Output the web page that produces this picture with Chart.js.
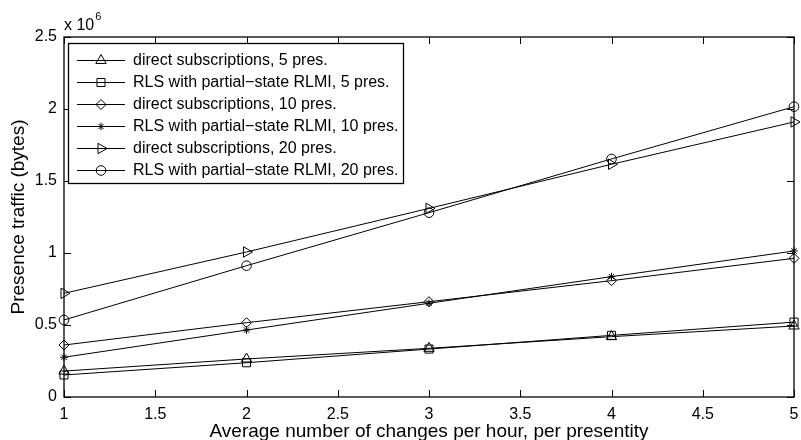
<!DOCTYPE html>
<html><head><meta charset="utf-8">
<style>html,body{margin:0;padding:0;background:#fff}#wrap{width:801px;height:440px}</style>
<script src="https://cdn.jsdelivr.net/npm/chart.js@4.4.0/dist/chart.umd.min.js"></script>
</head><body><div id="wrap"><canvas id="c" width="801" height="440"></canvas></div>
<script>
const changesPerHour = [1, 2, 3, 4, 5];
const direct5  = [0.180e6, 0.264e6, 0.338e6, 0.419e6, 0.493e6];
const rls5     = [0.153e6, 0.238e6, 0.333e6, 0.428e6, 0.520e6];
const direct10 = [0.361e6, 0.516e6, 0.662e6, 0.808e6, 0.963e6];
const rls10    = [0.276e6, 0.465e6, 0.651e6, 0.836e6, 1.014e6];
const direct20 = [0.720e6, 1.007e6, 1.310e6, 1.616e6, 1.910e6];
const rls20    = [0.535e6, 0.912e6, 1.280e6, 1.653e6, 2.016e6];
const seriesLabels = [
  'direct subscriptions, 5 pres.',
  'RLS with partial\u2212state RLMI, 5 pres.',
  'direct subscriptions, 10 pres.',
  'RLS with partial\u2212state RLMI, 10 pres.',
  'direct subscriptions, 20 pres.',
  'RLS with partial\u2212state RLMI, 20 pres.'
];
const xTickValues = [1, 1.5, 2, 2.5, 3, 3.5, 4, 4.5, 5];
const yTickValues = [0, 0.5e6, 1e6, 1.5e6, 2e6, 2.5e6];
const yTickLabels = ['0', '0.5', '1', '1.5', '2', '2.5'];
const xTitle = 'Average number of changes per hour, per presentity';
const yTitle = 'Presence traffic (bytes)';

const allSeries = [direct5, rls5, direct10, rls10, direct20, rls20];
const markers = [
  {style: 'triangle', rot: 0, r: 6},
  {style: 'rect', rot: 0, r: 5.7},
  {style: 'rectRot', rot: 0, r: 5},
  {style: 'star', rot: 0, r: 3.8},
  {style: 'triangle', rot: 90, r: 6},
  {style: 'circle', rot: 0, r: 4.8}
];
const FONT = '"Liberation Sans", Arial, Helvetica, sans-serif';

const datasets = allSeries.map((vals, i) => ({
  label: seriesLabels[i],
  data: vals.map((v, j) => ({x: changesPerHour[j], y: v})),
  borderColor: '#000',
  borderWidth: 1,
  pointStyle: markers[i].style,
  pointRotation: markers[i].rot,
  pointRadius: markers[i].r,
  pointBorderWidth: 1,
  pointBorderColor: '#000',
  pointBackgroundColor: 'rgba(0,0,0,0)',
  tension: 0,
  fill: false,
  clip: false
}));

const decor = {
  id: 'decor',
  afterDraw(chart) {
    const ctx = chart.ctx, a = chart.chartArea;
    const xs = chart.scales.x, ys = chart.scales.y;
    ctx.save();
    ctx.strokeStyle = '#000';
    ctx.lineWidth = 1.3;
    ctx.strokeRect(a.left, a.top, a.right - a.left, a.bottom - a.top);
    const tl = 7;
    ctx.lineWidth = 1;
    ctx.beginPath();
    xs.ticks.forEach(t => {
      const px = Math.round(xs.getPixelForValue(t.value)) + 0.5;
      ctx.moveTo(px, a.bottom); ctx.lineTo(px, a.bottom - tl);
      ctx.moveTo(px, a.top); ctx.lineTo(px, a.top + tl);
    });
    ys.ticks.forEach(t => {
      const py = Math.round(ys.getPixelForValue(t.value)) + 0.5;
      ctx.moveTo(a.left, py); ctx.lineTo(a.left + tl, py);
      ctx.moveTo(a.right, py); ctx.lineTo(a.right - tl, py);
    });
    ctx.stroke();
    // exponent label
    ctx.fillStyle = '#000';
    ctx.textBaseline = 'alphabetic';
    ctx.textAlign = 'left';
    ctx.font = '16px ' + FONT;
    ctx.fillText('x 10', 64, 30);
    const w = ctx.measureText('x 10').width;
    ctx.font = '11px ' + FONT;
    ctx.fillText('6', 64 + w + 1, 20);
    // legend
    const L = 68, T = 43, R = 403, B = 183;
    ctx.fillStyle = '#fff';
    ctx.fillRect(L, T, R - L, B - T);
    ctx.lineWidth = 1.3;
    ctx.strokeStyle = '#000';
    ctx.strokeRect(L + 0.5, T + 0.5, R - L, B - T);
    ctx.font = '16px ' + FONT;
    ctx.textBaseline = 'middle';
    datasets.forEach((ds, i) => {
      const y = 60 + i * 22;
      ctx.lineWidth = 1;
      ctx.strokeStyle = '#000';
      ctx.beginPath();
      ctx.moveTo(77, y + 0.5); ctx.lineTo(125, y + 0.5);
      ctx.stroke();
      ctx.fillStyle = 'rgba(0,0,0,0)';
      Chart.helpers.drawPoint(ctx, {pointStyle: markers[i].style, radius: markers[i].r, rotation: markers[i].rot, borderWidth: 1}, 101, y + 0.5);
      ctx.fillStyle = '#000';
      ctx.fillText(ds.label, 133, y + 1);
    });
    ctx.restore();
  }
};

new Chart(document.getElementById('c'), {
  type: 'line',
  data: {datasets},
  plugins: [decor],
  options: {
    responsive: false,
    animation: false,
    devicePixelRatio: 1,
    layout: {padding: {top: 37, right: 2, left: 0, bottom: 0}},
    plugins: {legend: {display: false}, tooltip: {enabled: false}},
    scales: {
      x: {
        type: 'linear', min: 1, max: 5,
        grid: {display: false, drawTicks: false},
        border: {display: false},
        afterBuildTicks: s => { s.ticks = xTickValues.map(v => ({value: v})); },
        afterFit: s => { s.height = 43; s.paddingLeft = 0; s.paddingRight = 0; },
        ticks: {color: '#000', font: {family: FONT, size: 16}, padding: 8, maxRotation: 0, autoSkip: false,
                callback: v => String(v)},
        title: {display: true, text: xTitle, color: '#000', font: {family: FONT, size: 19}, padding: {top: 0, bottom: -3}}
      },
      y: {
        type: 'linear', min: 0, max: 2.5e6,
        grid: {display: false, drawTicks: false},
        border: {display: false},
        afterBuildTicks: s => { s.ticks = yTickValues.map(v => ({value: v})); },
        afterFit: s => { s.width = 64; s.paddingTop = 0; s.paddingBottom = 0; },
        ticks: {color: '#000', font: {family: FONT, size: 16}, padding: 7, autoSkip: false,
                callback: v => yTickLabels[yTickValues.indexOf(v)]},
        title: {display: true, text: yTitle, color: '#000', font: {family: FONT, size: 19}, padding: {top: 7, bottom: 0}}
      }
    }
  }
});
</script></body></html>
